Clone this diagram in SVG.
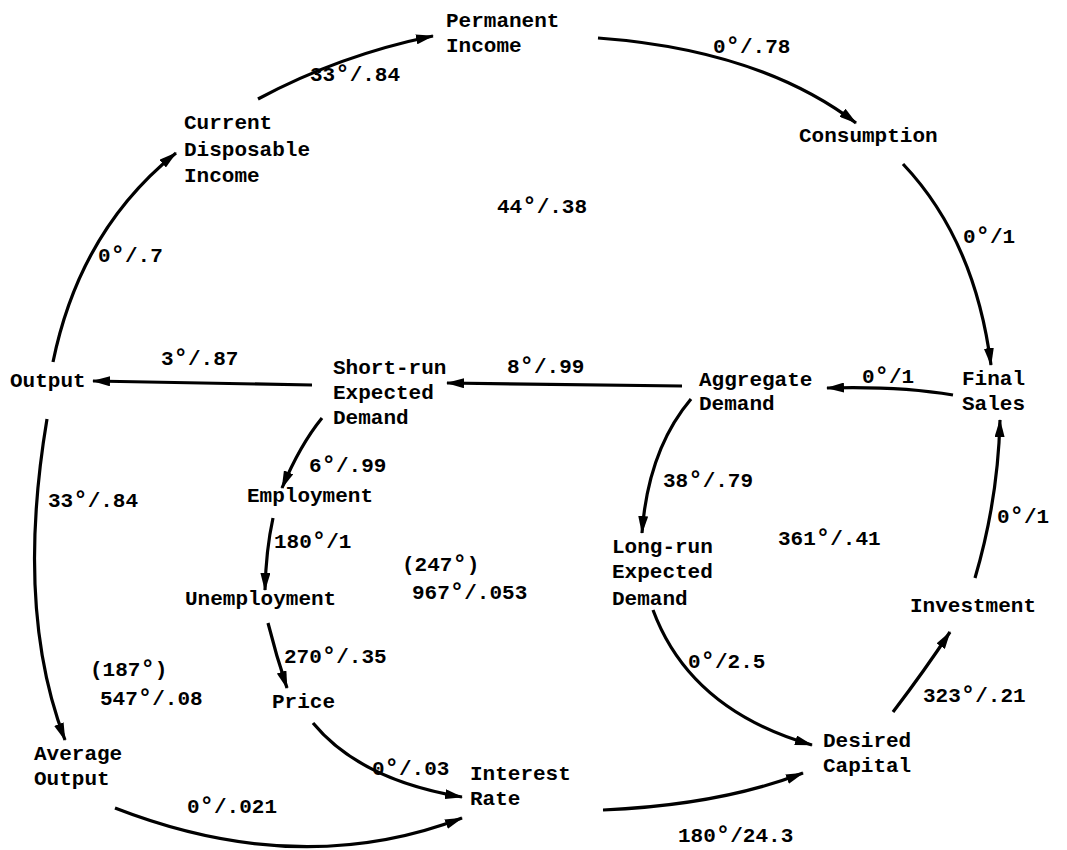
<svg xmlns="http://www.w3.org/2000/svg" width="1067" height="850" viewBox="0 0 1067 850">
<style>
text{font-family:"Liberation Mono","DejaVu Sans Mono",monospace;font-weight:bold;font-size:21px;fill:#000}
.d{font-size:24px}
.c{fill:none;stroke:#000;stroke-width:3.2}
</style>
<defs>
<marker id="a" viewBox="0 0 18 10" refX="17" refY="5" markerWidth="18" markerHeight="10" markerUnits="userSpaceOnUse" orient="auto">
<path d="M0,0 L18,5 L0,10 z" fill="#000"/>
</marker>
</defs>
<rect width="1067" height="850" fill="#fff"/>
<g id="connectors">
<path class="c" marker-end="url(#a)" d="M258,99 Q340,55 433,36"/>
<path class="c" marker-end="url(#a)" d="M598,38 Q760,50 856,123"/>
<path class="c" marker-end="url(#a)" d="M903,164 Q975,240 991,365"/>
<path class="c" marker-end="url(#a)" d="M953,395 Q900,386 827,388"/>
<path class="c" marker-end="url(#a)" d="M682,386 L447,383"/>
<path class="c" marker-end="url(#a)" d="M312,385 L93,381"/>
<path class="c" marker-end="url(#a)" d="M53,362 Q80,230 176,153"/>
<path class="c" marker-end="url(#a)" d="M47,419 Q15,610 65,740"/>
<path class="c" marker-end="url(#a)" d="M115,808 Q300,880 462,818"/>
<path class="c" marker-end="url(#a)" d="M313,723 Q360,780 462,797"/>
<path class="c" marker-end="url(#a)" d="M322,418 Q300,445 282,488"/>
<path class="c" marker-end="url(#a)" d="M273,518 Q266,550 265,590"/>
<path class="c" marker-end="url(#a)" d="M268,623 Q276,655 287,688"/>
<path class="c" marker-end="url(#a)" d="M691,399 Q648,450 642,533"/>
<path class="c" marker-end="url(#a)" d="M653,610 Q690,710 812,745"/>
<path class="c" marker-end="url(#a)" d="M603,810 Q720,805 803,773"/>
<path class="c" marker-end="url(#a)" d="M893,712 Q925,670 950,632"/>
<path class="c" marker-end="url(#a)" d="M975,578 Q998,500 1000,420"/>
</g>
<g id="permanent-income"><text x="446" y="27">Permanent</text><text x="446" y="52">Income</text></g>
<g id="current-disposable-income"><text x="184" y="129">Current</text><text x="184" y="156">Disposable</text><text x="184" y="182">Income</text></g>
<g id="consumption"><text x="799" y="142">Consumption</text></g>
<g id="final-sales"><text x="962" y="385">Final</text><text x="962" y="410">Sales</text></g>
<g id="aggregate-demand"><text x="699" y="386">Aggregate</text><text x="699" y="410">Demand</text></g>
<g id="short-run-expected-demand"><text x="333" y="374">Short-run</text><text x="333" y="399">Expected</text><text x="333" y="424">Demand</text></g>
<g id="output"><text x="10" y="387">Output</text></g>
<g id="employment"><text x="247" y="502">Employment</text></g>
<g id="unemployment"><text x="185" y="605">Unemployment</text></g>
<g id="price"><text x="272" y="708">Price</text></g>
<g id="average-output"><text x="34" y="760">Average</text><text x="34" y="785">Output</text></g>
<g id="interest-rate"><text x="470" y="780">Interest</text><text x="470" y="805">Rate</text></g>
<g id="long-run-expected-demand"><text x="612" y="553">Long-run</text><text x="612" y="578">Expected</text><text x="612" y="605">Demand</text></g>
<g id="desired-capital"><text x="823" y="747">Desired</text><text x="823" y="772">Capital</text></g>
<g id="investment"><text x="910" y="612">Investment</text></g>
<g id="labels">
<text x="310" y="81">33<tspan class="d">°</tspan>/.84</text>
<text x="713" y="53">0<tspan class="d">°</tspan>/.78</text>
<text x="963" y="243">0<tspan class="d">°</tspan>/1</text>
<text x="497" y="213">44<tspan class="d">°</tspan>/.38</text>
<text x="98" y="262">0<tspan class="d">°</tspan>/.7</text>
<text x="161" y="365">3<tspan class="d">°</tspan>/.87</text>
<text x="507" y="373">8<tspan class="d">°</tspan>/.99</text>
<text x="862" y="383">0<tspan class="d">°</tspan>/1</text>
<text x="48" y="507">33<tspan class="d">°</tspan>/.84</text>
<text x="309" y="472">6<tspan class="d">°</tspan>/.99</text>
<text x="274" y="548">180<tspan class="d">°</tspan>/1</text>
<text x="663" y="487">38<tspan class="d">°</tspan>/.79</text>
<text x="778" y="545">361<tspan class="d">°</tspan>/.41</text>
<text x="997" y="523">0<tspan class="d">°</tspan>/1</text>
<text x="402" y="571">(247<tspan class="d">°</tspan>)</text>
<text x="412" y="599">967<tspan class="d">°</tspan>/.053</text>
<text x="284" y="663">270<tspan class="d">°</tspan>/.35</text>
<text x="90" y="676">(187<tspan class="d">°</tspan>)</text>
<text x="100" y="705">547<tspan class="d">°</tspan>/.08</text>
<text x="372" y="775">0<tspan class="d">°</tspan>/.03</text>
<text x="187" y="813">0<tspan class="d">°</tspan>/.021</text>
<text x="688" y="668">0<tspan class="d">°</tspan>/2.5</text>
<text x="678" y="842">180<tspan class="d">°</tspan>/24.3</text>
<text x="923" y="702">323<tspan class="d">°</tspan>/.21</text>
</g>
</svg>
